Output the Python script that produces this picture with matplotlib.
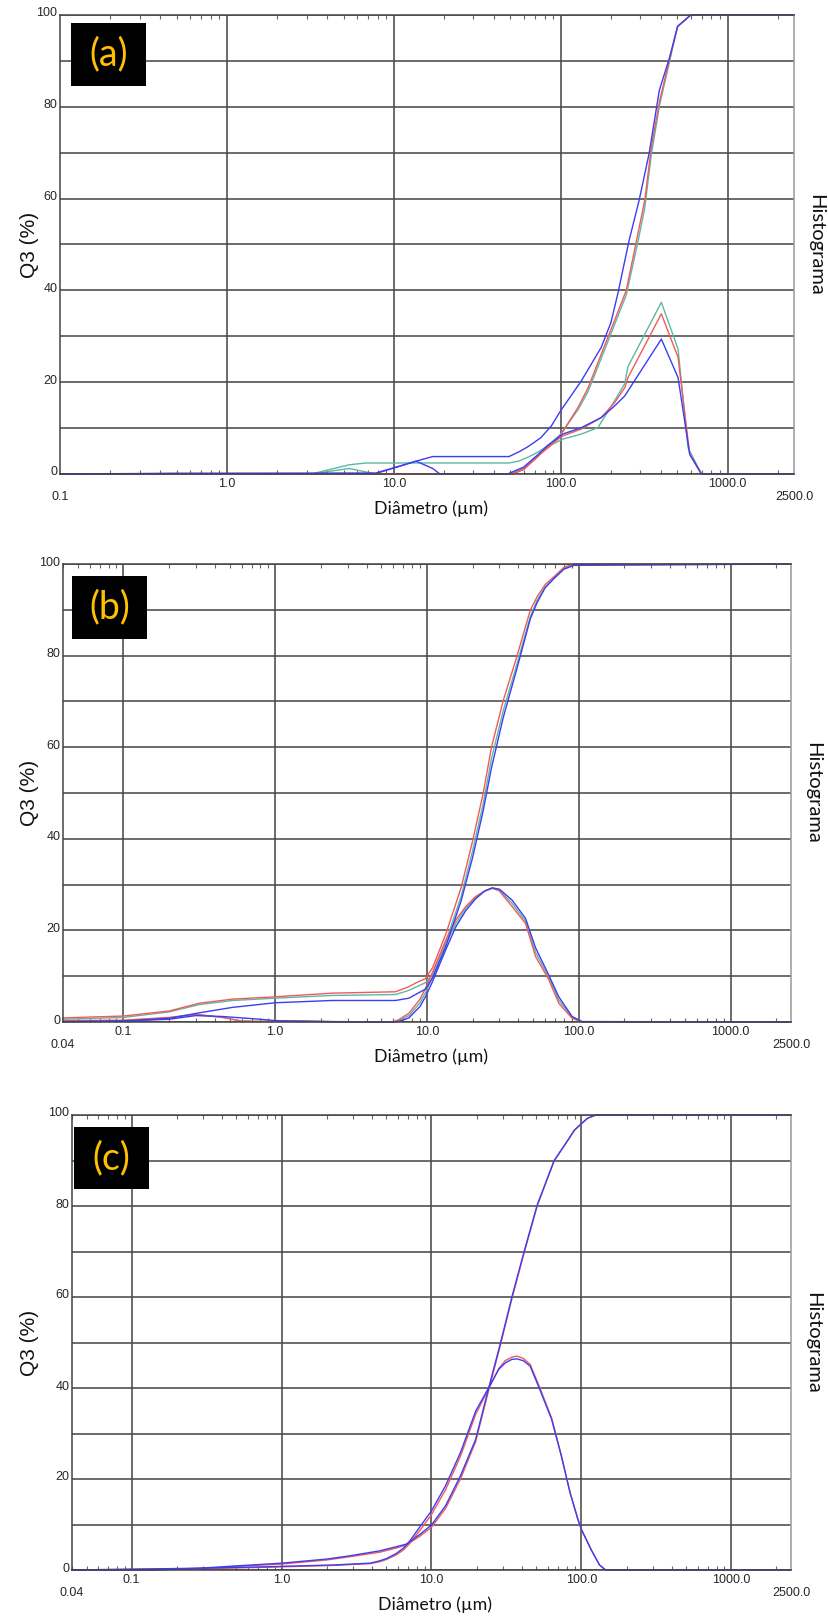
import numpy as np
import matplotlib
matplotlib.use("Agg")
import matplotlib.pyplot as plt
from matplotlib.patches import Rectangle
from matplotlib.ticker import FixedLocator, FixedFormatter, LogLocator, NullFormatter
import matplotlib.transforms as mtransforms

W, H = 829, 1620

RED = "#f25a5a"
TEAL = "#5cb8a6"
BLUE = "#3c3cf2"
GRID = "#4a4a4a"
GOLD = "#ffc000"

# ---- panel (a): diameters in um, Q3 in % ----
a_teal_cum_d = [0.1, 3.2, 5.4, 6.8, 49, 56, 65, 75, 86, 100, 127, 146, 175, 210, 247, 290, 319, 349, 392, 450, 501, 603, 2500]
a_teal_cum_q = [0, 0, 2.0, 2.4, 2.4, 2.8, 3.8, 5.0, 6.5, 8.7, 14.0, 18.0, 25.2, 32.5, 39.0, 50.5, 58.0, 69.5, 80.5, 90.0, 97.5, 100, 100]
a_red_cum_d = [0.1, 50, 60, 68, 75, 86, 100, 127, 146, 175, 210, 247, 290, 319, 349, 392, 450, 501, 603, 2500]
a_red_cum_q = [0, 0, 1.0, 2.8, 4.3, 6.0, 8.5, 14.5, 18.8, 26.1, 33.4, 40.0, 52.3, 59.6, 71.2, 81.4, 90.5, 97.5, 100, 100]
a_blue_cum_d = [0.1, 0.5, 7.8, 10.8, 13.6, 17.1, 49, 56.7, 64, 76, 88, 100, 133, 175, 200, 220, 257, 295, 339, 390, 448, 502, 600, 2500]
a_blue_cum_q = [0, 0.15, 0.2, 1.7, 2.8, 3.8, 3.8, 4.9, 6.0, 7.9, 10.5, 13.8, 20.3, 27.6, 33.0, 39.3, 50.9, 59.6, 69.9, 83.6, 90.6, 97.5, 100, 100]

a_teal_den_d = [0.1, 3.2, 5.4, 7.8, 50, 60, 73, 84, 103, 133, 167, 210, 242, 253, 401, 505, 580, 697, 2500]
a_teal_den_q = [0, 0, 1.2, 0, 0, 1.2, 4.0, 6.0, 7.6, 8.7, 10.1, 15.9, 19.7, 23.4, 37.4, 27.2, 5.7, 0, 0]
a_red_den_d = [0.1, 52, 60, 73, 84, 103, 133, 175, 210, 242, 253, 401, 505, 593, 697, 2500]
a_red_den_q = [0, 0, 1.0, 3.8, 6.0, 8.3, 9.8, 12.3, 15.5, 18.8, 21.0, 34.9, 25.4, 4.3, 0, 0]
a_blue_den_d = [0.1, 0.5, 7.8, 13.6, 17.1, 18.9, 48, 60, 73, 84, 103, 133, 175, 210, 242, 401, 505, 593, 697, 2500]
a_blue_den_q = [0, 0.1, 0.1, 2.8, 1.2, 0, 0, 1.5, 4.2, 6.3, 8.7, 10.1, 12.3, 14.8, 17.0, 29.4, 21.0, 4.3, 0, 0]

# ---- panel (b) ----
b_cum_d = [0.04, 0.1, 0.2, 0.316, 0.525, 1.0, 2.38, 6.2, 7.6, 8.4, 9.8, 10.9, 13.3, 16.8, 20, 23.4, 26.6, 31.8, 39, 47.9, 53, 60, 68.4, 80, 93, 2500]
b_red_cum = [0.9, 1.3, 2.4, 4.1, 5.0, 5.5, 6.3, 6.6, 7.7, 8.5, 9.5, 11.9, 19.2, 29.4, 39.6, 49.8, 60.0, 70.2, 79.7, 89.9, 92.8, 95.5, 97.2, 99.3, 100, 100]
b_teal_cum = [0.6, 1.0, 2.2, 3.8, 4.7, 5.2, 5.8, 6.0, 6.9, 7.6, 8.6, 10.5, 17.5, 27.5, 37.5, 47.5, 57.5, 68.0, 78.0, 88.5, 92.0, 95.0, 96.8, 99.0, 99.8, 100]
b_blue_cum = [0.1, 0.2, 0.8, 2.0, 3.2, 4.2, 4.7, 4.7, 5.2, 6.0, 7.2, 9.7, 16.5, 26.5, 36.0, 46.0, 55.5, 66.5, 77.0, 88.0, 91.5, 94.8, 96.8, 98.9, 99.7, 100]

b_den_d = [0.04, 0.1, 0.2, 0.3, 0.45, 0.6, 0.8, 1.0, 1.5, 2.5, 5.9, 6.5, 7.6, 9.0, 9.8, 10.8, 13.3, 15.5, 18, 20.9, 24, 26.9, 30, 36.4, 44.6, 51.9, 63.5, 73.8, 90.4, 105, 2500]
b_red_den = [0.3, 0.4, 1.0, 1.7, 1.0, 0.2, 0.15, 0.2, 0.2, 0.1, 0, 0.5, 1.9, 5.0, 7.4, 10.6, 17.9, 22.3, 25.2, 27.4, 28.6, 29.2, 28.6, 25.2, 21.5, 14.3, 9.2, 4.1, 0.8, 0, 0]
b_teal_den = [0.2, 0.3, 0.9, 1.6, 1.0, 0.2, 0.1, 0.15, 0.1, 0.05, 0, 0.3, 1.4, 4.2, 6.5, 9.6, 16.9, 21.6, 24.8, 27.2, 28.6, 29.2, 28.8, 25.9, 22.0, 15.2, 9.7, 4.8, 1.0, 0, 0]
b_blue_den = [0.05, 0.2, 0.6, 1.4, 1.2, 0.9, 0.6, 0.3, 0.2, 0.05, 0, 0.1, 0.9, 3.4, 5.6, 8.6, 15.8, 20.8, 24.3, 26.9, 28.6, 29.3, 29.0, 26.6, 22.6, 16.2, 10.2, 5.5, 1.2, 0.1, 0]

# ---- panel (c) ----
c_cum_d = [0.04, 0.134, 0.288, 0.5, 1.0, 2.0, 2.83, 4.5, 5.8, 6.8, 8.35, 10, 12.4, 15.6, 19.7, 24.1, 28.8, 34.5, 41.4, 50.8, 65.8, 81, 89.8, 100, 110, 125, 2500]
c_red_cum = [0, 0, 0.3, 0.8, 1.3, 2.2, 2.9, 3.9, 4.8, 5.5, 7.4, 9.4, 13.5, 20.0, 28.2, 39.6, 49.4, 59.8, 69.6, 80.1, 89.9, 94.4, 96.6, 98.1, 99.3, 100, 100]
c_blue_cum = [0, 0, 0.4, 0.9, 1.5, 2.4, 3.1, 4.2, 5.1, 5.7, 7.8, 9.9, 14.1, 20.7, 28.7, 40.1, 49.8, 60.2, 69.9, 80.3, 90.0, 94.4, 96.7, 98.1, 99.3, 100, 100]

c_den_d = [0.04, 0.29, 0.79, 1.0, 2.2, 3.9, 4.5, 5.0, 5.8, 6.5, 7.1, 8.5, 10, 12.4, 15.6, 19.7, 24.1, 28.1, 31, 34.4, 37.1, 41, 45.5, 51.7, 63.3, 73.5, 84, 95, 100, 116, 132, 145, 2500]
c_red_den = [0, 0.3, 0.6, 0.7, 1.0, 1.4, 1.8, 2.3, 3.3, 4.4, 5.7, 9.0, 12.2, 17.6, 25.0, 34.2, 39.9, 44.3, 46.0, 46.8, 47.0, 46.5, 45.2, 40.8, 33.4, 25.2, 17.0, 11.0, 8.9, 4.5, 1.1, 0, 0]
c_blue_den = [0, 0.4, 0.7, 0.8, 1.1, 1.5, 2.0, 2.5, 3.6, 4.8, 6.2, 9.8, 13.0, 18.5, 25.8, 34.9, 40.1, 44.1, 45.5, 46.3, 46.4, 46.0, 44.8, 40.4, 33.1, 25.0, 17.0, 11.0, 8.9, 4.5, 1.1, 0, 0]

TICK_FONT = "Liberation Sans"
TEXT_FONT = "Lato"
TICK_COLOR = "#262626"


def px_rect(x0, y0, x1, y1):
    return [x0 / W, 1 - y1 / H, (x1 - x0) / W, (y1 - y0) / H]


def setup_axes(ax, xlim):
    ax.set_xscale("log")
    ax.set_xlim(*xlim)
    ax.set_ylim(0, 100)

    decades = [d for d in [0.1, 1, 10, 100, 1000] if d > xlim[0]]
    ax.xaxis.set_major_locator(FixedLocator(decades))
    ax.xaxis.set_major_formatter(FixedFormatter([f"{d:.1f}" for d in decades]))
    ax.xaxis.set_minor_locator(LogLocator(base=10, subs=np.arange(2, 10), numticks=30))
    ax.xaxis.set_minor_formatter(NullFormatter())
    ax.tick_params(axis="x", which="major", length=0, pad=3, labelsize=9, labelcolor=TICK_COLOR)
    ax.tick_params(axis="x", which="minor", direction="in", length=3, width=0.8,
                   top=True, bottom=True, color="#666666")

    yt = list(range(0, 101, 10))
    ax.yaxis.set_major_locator(FixedLocator(yt))
    ax.yaxis.set_major_formatter(FixedFormatter([str(v) if v % 20 == 0 else "" for v in yt]))
    ax.tick_params(axis="y", length=0, pad=2, labelsize=9, labelcolor=TICK_COLOR)
    shift = mtransforms.ScaledTranslation(0, 0.03, ax.figure.dpi_scale_trans)
    for lab in ax.get_yticklabels():
        lab.set_transform(lab.get_transform() + shift)
    for lab in ax.get_xticklabels() + ax.get_yticklabels():
        lab.set_fontfamily(TICK_FONT)

    ax.grid(True, which="major", color=GRID, lw=1.15)
    for side in ["left", "bottom", "top"]:
        ax.spines[side].set_color("#444444")
    ax.spines["right"].set_color("#999999")
    for sp in ax.spines.values():
        sp.set_linewidth(1.1)

    # lower row of axis labels: range ends
    lo = xlim[0]
    lo_txt = f"{lo:.1f}" if lo >= 0.1 else f"{lo:.2f}"
    for xf, txt in [(0, lo_txt), (1, f"{xlim[1]:.1f}")]:
        ax.annotate(txt, xy=(xf, 0), xycoords="axes fraction", xytext=(0, -23),
                    textcoords="offset pixels", ha="center", va="center",
                    fontsize=9, color=TICK_COLOR, family=TICK_FONT)
    ax.annotate("Diâmetro (µm)", xy=(0.5, 0), xycoords="axes fraction", xytext=(4, -35),
                textcoords="offset pixels", ha="center", va="center",
                fontsize=12.8, color="#111111", family=TEXT_FONT)


fig = plt.figure(figsize=(W / 100, H / 100), dpi=100)
fig.patch.set_facecolor("white")

panels = [
    ("(a)", (60, 15, 794, 474), (0.1, 2500), (71, 23, 146, 86),
     [(a_teal_cum_d, a_teal_cum_q, TEAL), (a_teal_den_d, a_teal_den_q, TEAL),
      (a_red_cum_d, a_red_cum_q, RED), (a_red_den_d, a_red_den_q, RED),
      (a_blue_cum_d, a_blue_cum_q, BLUE), (a_blue_den_d, a_blue_den_q, BLUE)]),
    ("(b)", (63, 564, 791, 1022), (0.04, 2500), (72, 576, 147, 639),
     [(b_cum_d, b_teal_cum, TEAL), (b_den_d, b_teal_den, TEAL),
      (b_cum_d, b_red_cum, RED), (b_den_d, b_red_den, RED),
      (b_cum_d, b_blue_cum, BLUE), (b_den_d, b_blue_den, BLUE)]),
    ("(c)", (72, 1115, 791, 1570), (0.04, 2500), (74, 1127, 149, 1189),
     [(c_cum_d, c_red_cum, RED), (c_den_d, c_red_den, RED),
      (c_cum_d, c_blue_cum, BLUE), (c_den_d, c_blue_den, BLUE)]),
]

for tag, box, xlim, tag_box, curves in panels:
    x0, y0, x1, y1 = box
    ax = fig.add_axes(px_rect(x0, y0, x1, y1))
    for d, q, col in curves:
        ax.plot(d, q, color=col, lw=1.0, clip_on=False, solid_joinstyle="round")
    setup_axes(ax, xlim)

    yc = 1 - (y0 + y1) / 2 / H
    fig.text(30 / W, yc, "Q3 (%)", rotation=90, ha="center", va="center",
             fontsize=15, family=TICK_FONT, color="#111111")
    fig.text((x1 + 22) / W, yc, "Histograma", rotation=-90, ha="center", va="center",
             fontsize=14.5, family=TEXT_FONT, color="#111111")

    bx0, by0, bx1, by1 = tag_box
    r = px_rect(bx0, by0, bx1, by1)
    fig.add_artist(Rectangle((r[0], r[1]), r[2], r[3], transform=fig.transFigure,
                             facecolor="black", edgecolor="none", zorder=5))
    fig.text(r[0] + r[2] / 2, r[1] + r[3] / 2, tag, ha="center", va="center",
             fontsize=27, color=GOLD, family=TEXT_FONT, zorder=6)

fig.savefig("out.png", dpi=100)
